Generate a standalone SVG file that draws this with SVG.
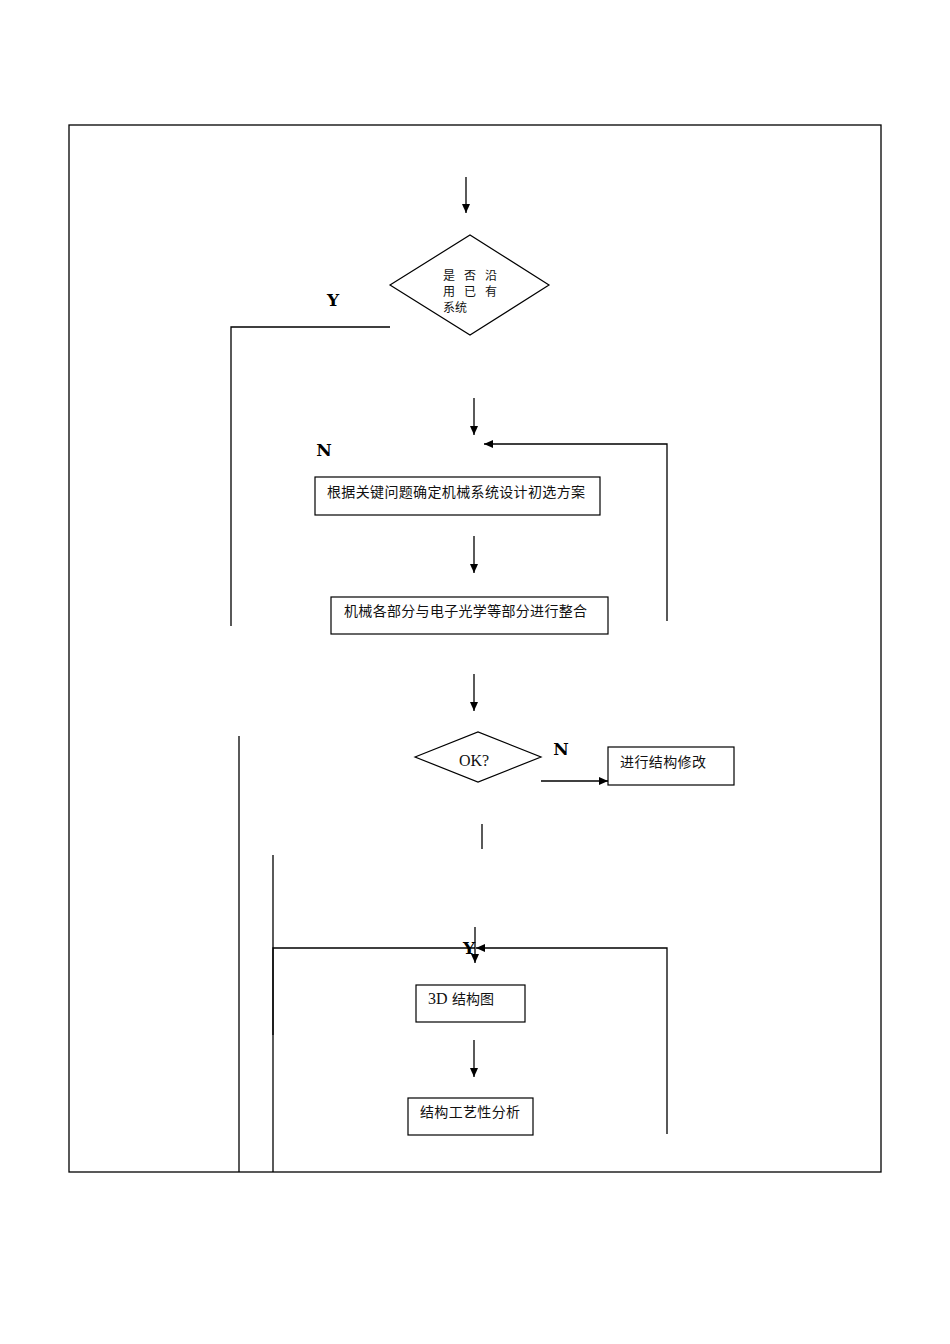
<svg xmlns="http://www.w3.org/2000/svg" width="950" height="1344" viewBox="0 0 950 1344">
<defs>
<marker id="ah" markerWidth="10" markerHeight="10" refX="9" refY="5" orient="auto" markerUnits="userSpaceOnUse">
<path d="M0,1 L9,5 L0,9 Z" fill="#000"/>
</marker>
<style>
.ln{stroke:#000;stroke-width:1.3;fill:none}
.bx{stroke:#000;stroke-width:1.2;fill:#fff}
.cn{font-family:"Noto Sans CJK SC","Noto Sans CJK JP",sans-serif;font-size:14px;fill:#111}
.sm{font-family:"Noto Sans CJK SC",sans-serif;font-size:12px;fill:#111}
.yn{font-family:"DejaVu Serif","Liberation Serif",serif;font-size:17px;font-weight:bold;fill:#000}
.lt{font-family:"Liberation Serif",serif;font-size:16px;fill:#111}
</style>
</defs>
<rect width="950" height="1344" fill="#fff"/>
<rect x="69" y="125" width="812" height="1047" class="ln" stroke-width="1.5"/>

<g id="connectors">
<line x1="466" y1="177" x2="466" y2="213" class="ln" marker-end="url(#ah)"/>
<polyline points="390,327 231,327 231,626" class="ln"/>
<line x1="474" y1="398" x2="474" y2="435" class="ln" marker-end="url(#ah)"/>
<polyline points="667,621 667,444 484,444" class="ln" marker-end="url(#ah)"/>
<line x1="474" y1="536" x2="474" y2="573" class="ln" marker-end="url(#ah)"/>
<line x1="474" y1="674" x2="474" y2="711" class="ln" marker-end="url(#ah)"/>
<line x1="541" y1="781" x2="608" y2="781" class="ln" marker-end="url(#ah)"/>
<line x1="482" y1="824" x2="482" y2="849" class="ln"/>
<line x1="239" y1="736" x2="239" y2="1172" class="ln"/>
<line x1="273" y1="855" x2="273" y2="1172" class="ln"/>
<polyline points="273,1035 273,948 475,948" class="ln"/>
<polyline points="667,1134 667,948 476,948" class="ln" marker-end="url(#ah)"/>
<line x1="475" y1="927" x2="475" y2="963" class="ln" marker-end="url(#ah)"/>
<line x1="474" y1="1040" x2="474" y2="1077" class="ln" marker-end="url(#ah)"/>
<text x="333" y="306" class="yn" text-anchor="middle">Y</text>
<text x="324" y="456" class="yn" text-anchor="middle">N</text>
<text x="561" y="755" class="yn" text-anchor="middle">N</text>
<text x="469" y="954" class="yn" text-anchor="middle">Y</text>
</g>

<g id="decision1">
<polygon points="390,285 470,235 549,285 470,335" class="bx"/>
<text class="sm" y="280"><tspan x="443">是</tspan><tspan x="464">否</tspan><tspan x="485">沿</tspan></text>
<text class="sm" y="296"><tspan x="443">用</tspan><tspan x="464">已</tspan><tspan x="485">有</tspan></text>
<text class="sm" x="443" y="312">系统</text>
</g>

<g id="box1">
<rect x="315" y="477" width="285" height="38" class="bx"/>
<text x="327" y="497" class="cn" textLength="258" lengthAdjust="spacing">根据关键问题确定机械系统设计初选方案</text>
</g>

<g id="box2">
<rect x="331" y="597" width="277" height="37" class="bx"/>
<text x="344" y="616" class="cn" textLength="243" lengthAdjust="spacing">机械各部分与电子光学等部分进行整合</text>
</g>

<g id="decision2">
<polygon points="415,757 478,732 541,757 478,782" class="bx"/>
<text x="474" y="766" class="lt" text-anchor="middle">OK?</text>
</g>

<g id="box3">
<rect x="608" y="747" width="126" height="38" class="bx"/>
<text x="620" y="767" class="cn" textLength="86" lengthAdjust="spacing">进行结构修改</text>
</g>

<g id="box4">
<rect x="416" y="985" width="109" height="37" class="bx"/>
<text x="428" y="1004" class="lt" font-size="14">3D</text>
<text x="452" y="1004" class="cn">结构图</text>
</g>

<g id="box5">
<rect x="408" y="1098" width="125" height="37" class="bx"/>
<text x="420" y="1117" class="cn" textLength="100" lengthAdjust="spacing">结构工艺性分析</text>
</g>
</svg>
